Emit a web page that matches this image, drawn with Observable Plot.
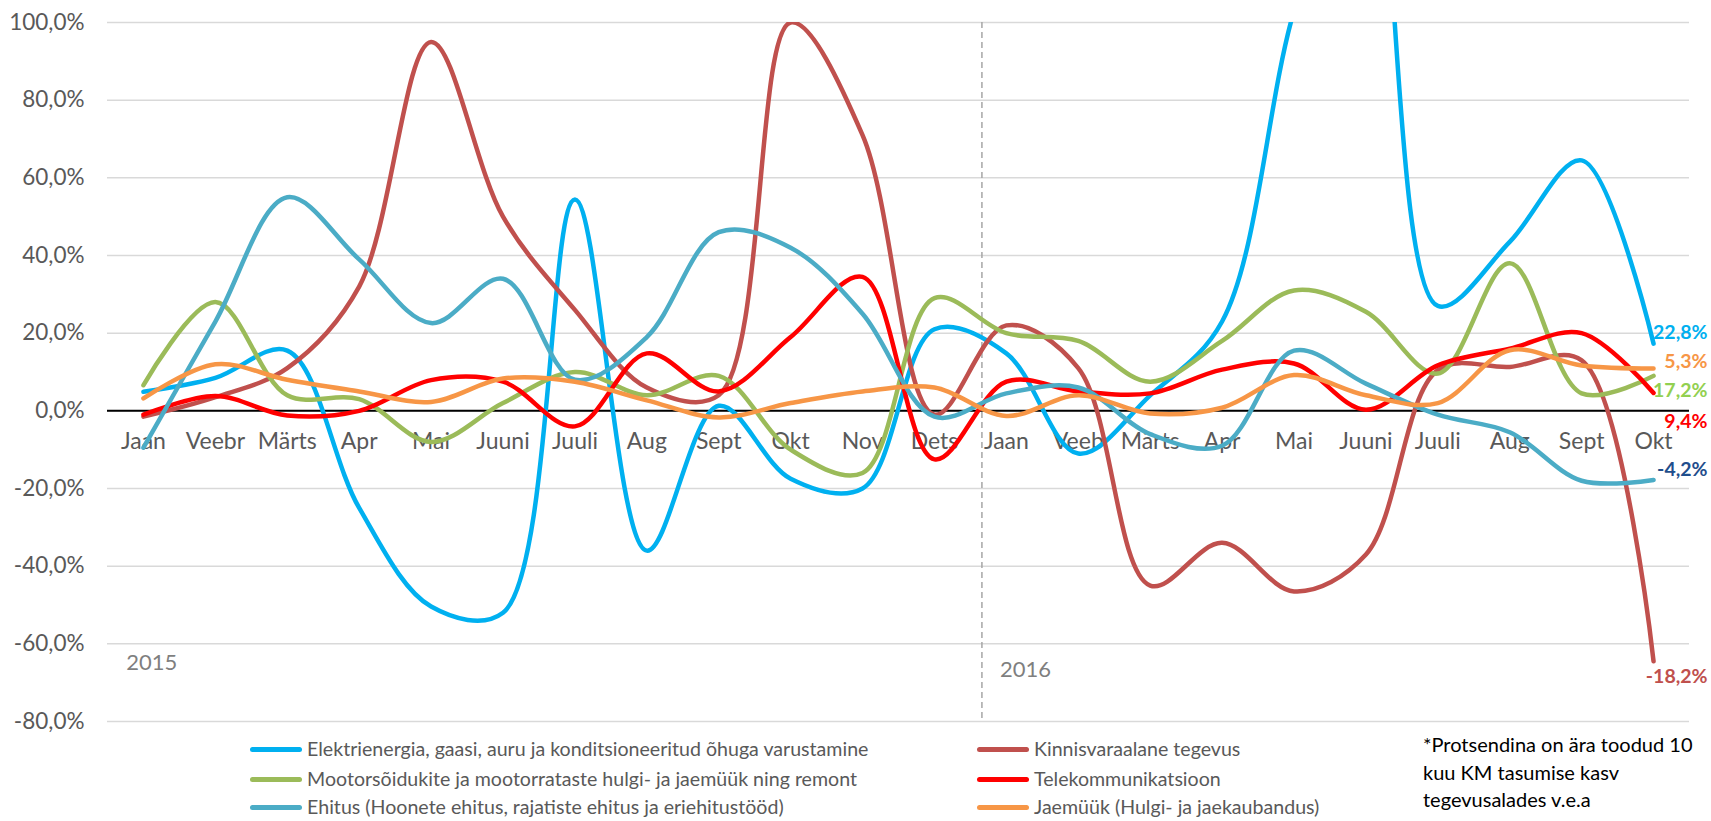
<!DOCTYPE html>
<html>
<head>
<meta charset="utf-8">
<script src="https://cdn.jsdelivr.net/npm/d3@7"></script>
<script src="https://cdn.jsdelivr.net/npm/@observablehq/plot@0.6"></script>
<style>
  html, body { margin: 0; padding: 0; background: #fff; }
  body { font-family: Lato, "Open Sans", sans-serif; }
  #wrap { position: relative; width: 1711px; height: 821px; overflow: hidden; }
  #chart { position: absolute; left: 0; top: 0; }
  .leg { position: absolute; height: 24px; line-height: 24px; font-size: 19.6px; color: #595959; white-space: nowrap; }
  .leg .sw { position: absolute; left: 0; top: 9.5px; width: 52px; height: 5px; border-radius: 3px; }
  .leg .tx { position: absolute; left: 57px; top: 0; }
  #note { position: absolute; left: 1423px; top: 731px; font-size: 20px; line-height: 27.5px; color: #000; white-space: nowrap; }
</style>
</head>
<body>
<div id="wrap">
  <div id="chart"></div>
  <div id="legend"></div>
  <div id="note">*Protsendina on ära toodud 10<br>kuu KM tasumise kasv<br>tegevusalades v.e.a</div>
</div>
<script>
// Month tick labels (Jaan 2015 .. Okt 2016)
const months = ["Jaan","Veebr","Märts","Apr","Mai","Juuni","Juuli","Aug","Sept","Okt","Nov","Dets",
                "Jaan","Veeb","Märts","Apr","Mai","Juuni","Juuli","Aug","Sept","Okt"];

// Series names (legend order)
const seriesNames = [
  "Elektrienergia, gaasi, auru ja konditsioneeritud õhuga varustamine",
  "Kinnisvaraalane tegevus",
  "Mootorsõidukite ja mootorrataste hulgi- ja jaemüük ning remont",
  "Telekommunikatsioon",
  "Ehitus (Hoonete ehitus, rajatiste ehitus ja eriehitustööd)",
  "Jaemüük (Hulgi- ja jaekaubandus)"
];
const seriesColors = ["#00b0f0", "#c0504d", "#9bbb59", "#ff0000", "#4bacc6", "#f79646"];

// Values, %
const elektri   = [4.9, 8.5, 15.5, -25, -50.4, -52, 54.4, -36, 1.3, -17.5, -20, 21, 14.8, -11, 4, 23, 103, 155, 27, 43.5, 64.5, 17.3];
const kinnisvara= [-1.5, 3.5, 11, 32, 95, 50, 26, 6, 4, 100, 71, -1, 22, 11, -45, -34, -46.5, -37, 10.5, 11.3, 13, -64.5];
const mootor    = [6.6, 28, 4, 3, -8, 2, 10, 4, 9, -10, -16, 29, 20, 18, 7.5, 18, 31, 25.5, 9.6, 38, 4.5, 9];
const telekom   = [-1, 3.8, -1.2, 0, 7.9, 7.5, -4, 14.8, 5, 19, 34.5, -12.5, 7.5, 5, 4.5, 10.6, 12.2, 0.3, 11.7, 16, 20, 4.6];
const ehitus    = [-9.5, 23, 55, 39, 22.6, 34, 8, 19, 46, 42, 25, -1.5, 4.5, 6, -6, -9, 15.5, 7, -1, -5.5, -18, -17.8];
const jaemyyk   = [3.2, 12, 8, 5, 2.3, 8.3, 7.5, 2.7, -1.7, 2, 5, 6, -1.3, 4, -0.7, 0.8, 9.2, 4, 2, 15.6, 11.7, 10.9];

const seriesValues = [elektri, kinnisvara, mootor, telekom, ehitus, jaemyyk];

// Y ticks
const yTicks = [-80, -60, -40, -20, 0, 20, 40, 60, 80, 100];

// End annotations (10-month growth), placed in value units
const endLabels = [
  {text: "22,8%",  y: 20,    color: "#00b0f0"},
  {text: "5,3%",   y: 12.6,  color: "#f79646"},
  {text: "17,2%",  y: 5.3,   color: "#92d050"},
  {text: "9,4%",   y: -2.8,  color: "#ff0000"},
  {text: "-4,2%",  y: -15.3, color: "#1f4e8c"},
  {text: "-18,2%", y: -68.4, color: "#c0504d"}
];

// Year markers
const yearLabels = [
  {text: "2015", x: -0.24, y: -65},
  {text: "2016", x: 11.91, y: -66.7}
];
const yearDivider = 11.66; // between Dets 2015 and Jaan 2016

const rows = [];
seriesNames.forEach((s, k) => seriesValues[k].forEach((v, i) => rows.push({s, i, v})));

const fmt = d => d.toFixed(1).replace(".", ",") + "%";

const chart = Plot.plot({
  width: 1711,
  height: 730,
  marginLeft: 107,
  marginRight: 22,
  marginTop: 22,
  marginBottom: 9,
  style: {fontFamily: "Lato, 'Open Sans', sans-serif", background: "transparent", overflow: "visible"},
  x: {domain: [-0.5, months.length - 0.5], axis: null},
  y: {domain: [-80, 100], axis: null},
  color: {domain: seriesNames, range: seriesColors},
  marks: [
    Plot.gridY(yTicks, {stroke: "#d9d9d9", strokeOpacity: 1, strokeWidth: 1.5}),
    Plot.axisY(yTicks, {tickSize: 0, tickPadding: 23, tickFormat: fmt, fontSize: 22.5, color: "#595959"}),
    Plot.ruleY([0], {stroke: "#000", strokeWidth: 2}),
    Plot.ruleX([yearDivider], {stroke: "#a6a6a6", strokeDasharray: "6,4", strokeWidth: 1.5}),
    Plot.text(months, {x: (d, i) => i, y: () => 0, text: d => d, dy: 31, fontSize: 23, fill: "#595959"}),
    Plot.text(yearLabels, {x: "x", y: "y", text: "text", textAnchor: "start", fontSize: 22, fill: "#7f7f7f"}),
    Plot.line(rows, {x: "i", y: "v", z: "s", stroke: "s", curve: "catmull-rom", strokeWidth: 4.5, strokeLinecap: "round", strokeLinejoin: "round", clip: true}),
    Plot.text(endLabels, {x: () => months.length - 1, y: "y", text: "text", fill: "color", fontWeight: "bold", fontSize: 19.5, textAnchor: "end", dx: 54})
  ]
});
document.getElementById("chart").appendChild(chart);

// Legend (HTML, below the chart)
const legendCols = [250, 977];
const legendRows = [749, 779, 807];
const legend = document.getElementById("legend");
seriesNames.forEach((s, k) => {
  const col = k % 2, row = Math.floor(k / 2);
  const item = document.createElement("div");
  item.className = "leg";
  item.style.left = legendCols[col] + "px";
  item.style.top = (legendRows[row] - 12) + "px";
  item.innerHTML = `<span class="sw" style="background:${seriesColors[k]}"></span><span class="tx"></span>`;
  item.querySelector(".tx").textContent = s;
  legend.appendChild(item);
});
</script>
</body>
</html>
